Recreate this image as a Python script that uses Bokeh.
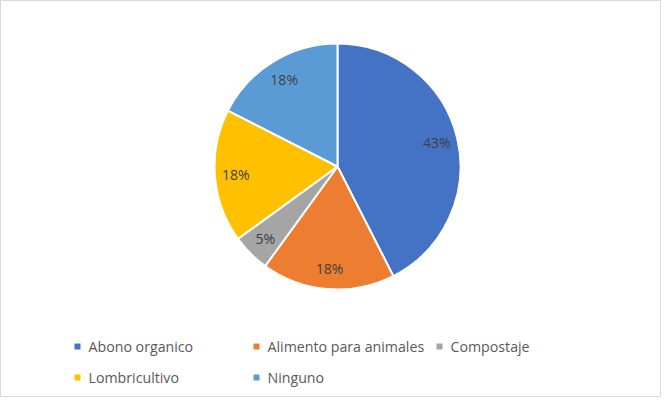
import math
from bokeh.plotting import figure
from bokeh.models import Range1d, ColumnDataSource
from bokeh.core.properties import value
from bokeh.embed import file_html
from bokeh.resources import INLINE

categories = ["Abono organico", "Alimento para animales", "Compostaje", "Lombricultivo", "Ninguno"]
shares = [42.5, 17.5, 5.0, 17.5, 17.5]
labels = ["43%", "18%", "5%", "18%", "18%"]
colors = ["#4472C4", "#ED7D31", "#A5A5A5", "#FFC000", "#5B9BD5"]

W, H = 661, 397
p = figure(width=W, height=H, output_backend="svg", toolbar_location=None,
           x_range=Range1d(0, W), y_range=Range1d(0, H), min_border=0)
p.axis.visible = False
p.grid.visible = False
p.outline_line_color = "#D9D9D9"
p.outline_line_width = 1
p.background_fill_color = "white"
p.border_fill_color = "white"

cx, cy, R = 337, 231, 123
total = sum(shares)
starts, ends, lx, ly = [], [], [], []
cum = 0.0
for s in shares:
    a0 = math.pi / 2 - cum / total * 2 * math.pi
    cum += s
    a1 = math.pi / 2 - cum / total * 2 * math.pi
    starts.append(a0)
    ends.append(a1)
    mid = (a0 + a1) / 2
    lx.append(cx + 0.83 * R * math.cos(mid))
    ly.append(cy + 0.83 * R * math.sin(mid))

src = ColumnDataSource(dict(start=starts, end=ends, color=colors, lx=lx, ly=ly, label=labels))
p.wedge(x=cx, y=cy, radius=R, start_angle="start", end_angle="end", direction="clock",
        fill_color="color", line_color="white", line_width=2, source=src)
p.text(x="lx", y="ly", text="label", source=src, text_align="center", text_baseline="middle",
       text_font=value("Open Sans"), text_font_size="14px", text_color="#404040")

# legend
mx = [77, 256, 439, 77, 256]
my = [51, 51, 51, 20, 20]
lsrc = ColumnDataSource(dict(mx=mx, my=my, tx=[m + 11 for m in mx], name=categories, color=colors))
p.scatter(x="mx", y="my", marker="square", size=6, fill_color="color", line_color=None, source=lsrc)
p.text(x="tx", y="my", text="name", source=lsrc, text_align="left", text_baseline="middle",
       text_font=value("Open Sans"), text_font_size="14.2px", text_color="#595959")

open("out.html", "w").write(file_html(p, INLINE))
